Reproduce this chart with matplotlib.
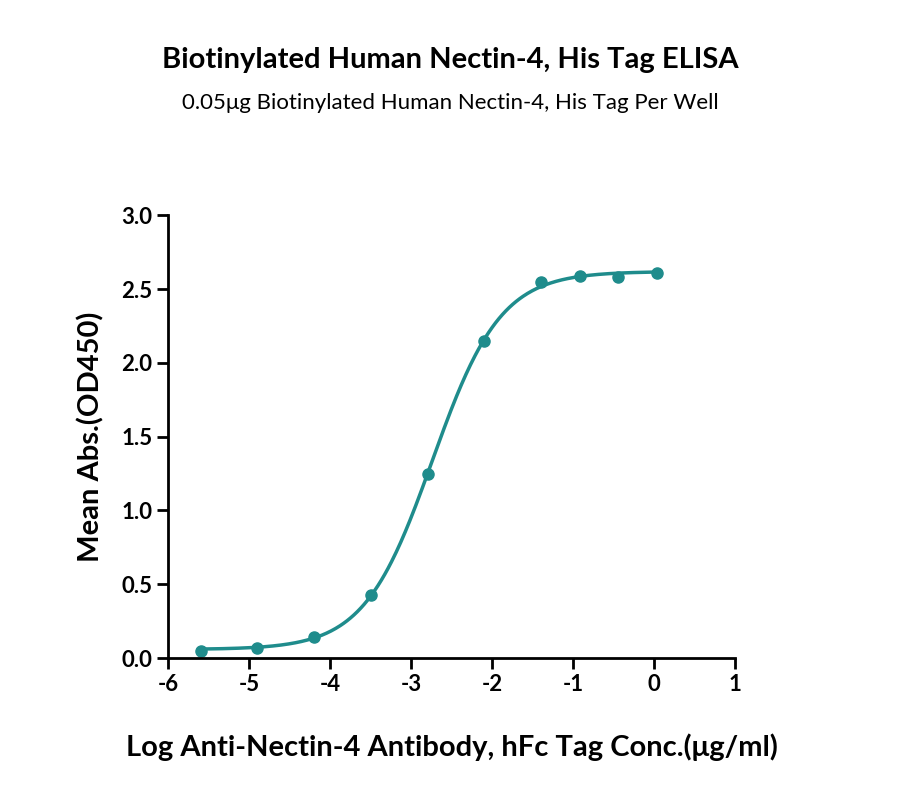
import numpy as np
import matplotlib
matplotlib.use("Agg")
import matplotlib.pyplot as plt

plt.rcParams['font.family'] = ['Lato', 'DejaVu Sans']

log_conc = [-5.6, -4.9, -4.2, -3.5, -2.8, -2.1, -1.4, -0.92, -0.45, 0.03]
od450 = [0.05, 0.07, 0.14, 0.43, 1.25, 2.15, 2.55, 2.59, 2.58, 2.61]
xticks = [-6, -5, -4, -3, -2, -1, 0, 1]
yticks = [0.0, 0.5, 1.0, 1.5, 2.0, 2.5, 3.0]
color = '#1f8c8c'

x = np.array(log_conc); y = np.array(od450)
# 4PL fit: grid search over logEC50 & hill, linear solve for bottom/top
best = None
for c in np.linspace(-4, -1.5, 251):
    for h in np.linspace(0.5, 2.5, 201):
        s = 1 / (1 + 10 ** ((c - x) * h))
        A = np.vstack([1 - s, s]).T
        p, *_ = np.linalg.lstsq(A, y, rcond=None)
        r = np.sum((A @ p - y) ** 2)
        if best is None or r < best[0]:
            best = (r, c, h, p)
_, c, h, p = best
xf = np.linspace(min(x), max(x), 400)
sf = 1 / (1 + 10 ** ((c - xf) * h))
yf = p[0] * (1 - sf) + p[1] * sf

fig = plt.figure(figsize=(9, 8.05), dpi=100)
ax = fig.add_axes([0.187, 0.1826, 0.63, 0.55])
ax.plot(xf, yf, color=color, lw=2.5)
ax.plot(x, y, 'o', color=color, ms=8)
ax.set_xlim(-6, 1); ax.set_ylim(0, 3)
ax.set_xticks(xticks); ax.set_yticks(yticks)
ax.set_xticklabels([str(t) for t in xticks])
ax.set_yticklabels([f'{t:.1f}' for t in yticks])
for s in ['top', 'right']:
    ax.spines[s].set_visible(False)
for s in ['left', 'bottom']:
    ax.spines[s].set_linewidth(2)
ax.tick_params(width=2, length=8, labelsize=16, direction='out')
for lab in ax.get_xticklabels() + ax.get_yticklabels():
    lab.set_fontweight('bold')
ax.set_xlabel('Log Anti-Nectin-4 Antibody, hFc Tag Conc.(μg/ml)', fontsize=21, fontweight='bold', labelpad=28)
ax.set_ylabel('Mean Abs.(OD450)', fontsize=21, fontweight='bold', labelpad=12)
fig.text(0.5, 0.925, 'Biotinylated Human Nectin-4, His Tag ELISA', ha='center', va='center', fontsize=21, fontweight='bold')
fig.text(0.5, 0.872, '0.05μg Biotinylated Human Nectin-4, His Tag Per Well', ha='center', va='center', fontsize=16)
fig.savefig('out.png', dpi=100)
